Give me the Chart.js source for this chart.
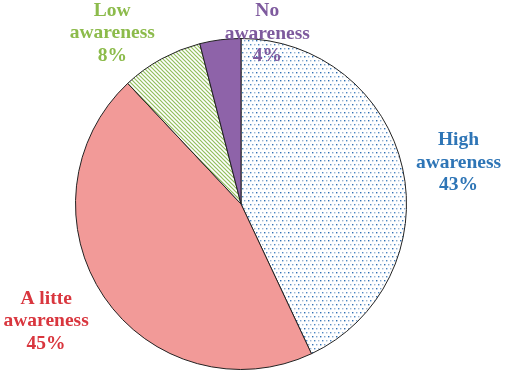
<!DOCTYPE html>
<html>
<head>
<meta charset="utf-8">
<script src="https://cdn.jsdelivr.net/npm/chart.js@4"></script>
<style>
  html, body { margin: 0; padding: 0; background: #fff; }
  #wrap { width: 505px; height: 375px; position: relative; }
</style>
</head>
<body>
<div id="wrap"><canvas id="pie"></canvas></div>
<script>
// Nivel de conocimiento (awareness) - pie
const categorias = ['High awareness', 'A litte awareness', 'Low awareness', 'No awareness'];
const valores    = [43, 45, 8, 4];
const etiquetas  = [['High', 'awareness', '43%'], ['A litte', 'awareness', '45%'], ['Low', 'awareness', '8%'], ['No', 'awareness', '4%']];
const coloresTxt = ['#2E75B6', '#D9363E', '#8CBB4B', '#7E5A9E'];
// desplazamiento de cada etiqueta respecto al borde del sector
const offsets    = [[56, -5], [-58, 24], [-49, -26], [47, -6]];

// patrón de puntos azules
function patronPuntos() {
    const c = document.createElement('canvas');
    c.width = 8; c.height = 8;
    const g = c.getContext('2d');
    g.fillStyle = '#fff'; g.fillRect(0, 0, 8, 8);
    const tonos = ['#2f6fb3', '#7fa6cf', '#4a86c4', '#9fb7d3'];
    [[0,0],[4,0],[2,4],[6,4]].forEach((p, i) => {
        g.fillStyle = tonos[i];
        g.fillRect(p[0], p[1], 1.4, 1.4);
    });
    return g.createPattern(c, 'repeat');
}

// patrón de rayas verdes diagonales
function patronRayas() {
    const c = document.createElement('canvas');
    c.width = 4; c.height = 4;
    const g = c.getContext('2d');
    g.fillStyle = '#fff'; g.fillRect(0, 0, 4, 4);
    g.strokeStyle = '#92be5c'; g.lineWidth = 1.2;
    g.beginPath();
    g.moveTo(-1, -1); g.lineTo(5, 5);
    g.moveTo(-1, 3); g.lineTo(1, 5);
    g.moveTo(3, -1); g.lineTo(5, 1);
    g.stroke();
    return g.createPattern(c, 'repeat');
}

const etiquetasPlugin = {
    id: 'etiquetas',
    afterDatasetsDraw(chart) {
        const ctx = chart.ctx;
        const meta = chart.getDatasetMeta(0);
        ctx.save();
        ctx.font = 'bold 19.5px "Liberation Serif", "Times New Roman", serif';
        ctx.textAlign = 'center';
        ctx.textBaseline = 'middle';
        meta.data.forEach((arc, i) => {
            const p = arc.getProps(['x', 'y', 'startAngle', 'endAngle', 'outerRadius'], true);
            const mid = (p.startAngle + p.endAngle) / 2;
            const x = p.x + Math.cos(mid) * p.outerRadius + offsets[i][0];
            const y = p.y + Math.sin(mid) * p.outerRadius + offsets[i][1];
            ctx.fillStyle = coloresTxt[i];
            const lineas = etiquetas[i];
            lineas.forEach((t, k) => {
                ctx.fillText(t, x, y + (k - (lineas.length - 1) / 2) * 22.5);
            });
        });
        ctx.restore();
    }
};

new Chart(document.getElementById('pie').getContext('2d'), {
    type: 'pie',
    data: {
        labels: categorias,
        datasets: [{
            data: valores,
            backgroundColor: [patronPuntos(), '#F29A98', patronRayas(), '#8E63A9'],
            borderColor: '#222',
            borderWidth: 1
        }]
    },
    options: {
        responsive: true,
        maintainAspectRatio: false,
        animation: false,
        layout: { padding: { left: 75, right: 98, top: 38, bottom: 5 } },
        plugins: { legend: { display: false }, tooltip: { enabled: false } }
    },
    plugins: [etiquetasPlugin]
});
</script>
</body>
</html>
